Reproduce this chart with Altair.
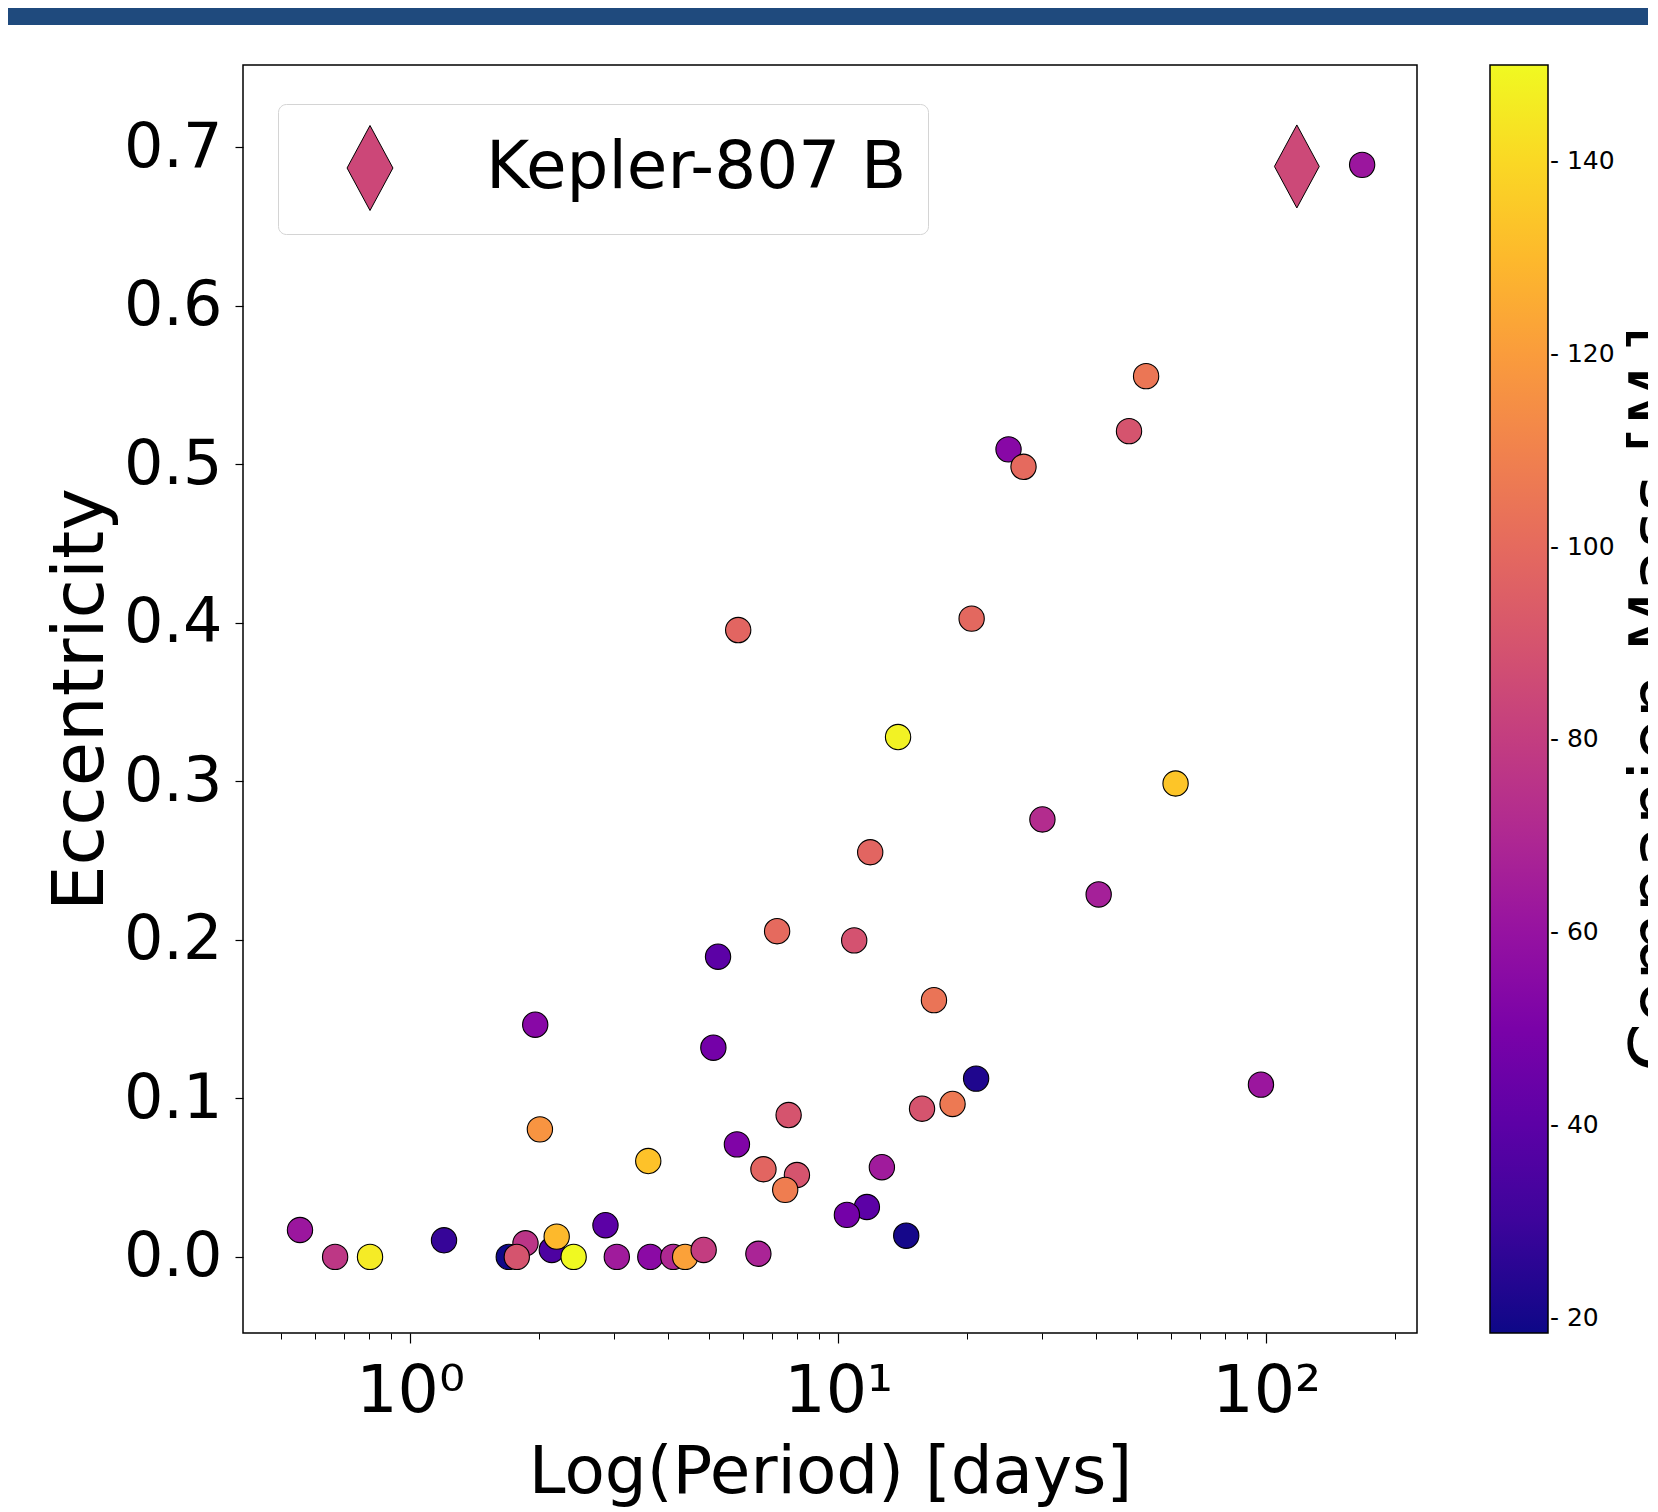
import altair as alt
import pandas as pd

FONT = "DejaVu Sans"

# ---- data (period [days], eccentricity, companion mass [M_J]) ----
period = [0.553, 0.668, 0.806, 1.20, 1.70, 1.86, 1.775, 2.143, 2.20, 2.41,
          2.86, 3.04, 3.64, 4.12, 4.39, 4.85, 2.01, 3.60, 1.96, 5.11,
          5.80, 6.51, 7.66, 8.01, 6.69, 7.52, 11.67, 10.48, 12.65, 14.42,
          15.7, 18.5, 21.0, 5.24, 10.9, 7.2, 11.88, 16.74, 13.8, 5.84,
          20.5, 25.0, 27.1, 47.8, 52.4, 30.0, 40.6, 61.4, 97.2, 167.5]
ecc = [0.017, 0.0, 0.0, 0.0105, 0.0, 0.0086, 0.0, 0.0044, 0.0128, 0.0,
       0.020, 0.0, 0.0, 0.0, 0.0, 0.0044, 0.0805, 0.0605, 0.1465, 0.132,
       0.071, 0.002, 0.0895, 0.0517, 0.0553, 0.0423, 0.0315, 0.0265, 0.0566, 0.0134,
       0.0935, 0.0965, 0.1125, 0.1894, 0.1997, 0.2055, 0.2553, 0.162, 0.328, 0.3955,
       0.4027, 0.5095, 0.4985, 0.521, 0.5557, 0.276, 0.2287, 0.2987, 0.1087, 0.689]
mass = [62, 77, 146, 28, 19, 76, 90, 35, 130, 150,
        40, 64, 56, 70, 122, 80, 117, 133, 55, 48,
        52, 68, 90, 90, 98, 108, 40, 48, 64, 20,
        90, 106, 22, 40, 89, 100, 98, 104, 148, 98,
        99, 55, 100, 90, 105, 72, 66, 134, 62, 62]

kep_name = ["Kepler-807 B"]
kep_period = [117.9]
kep_ecc = [0.688]
kep_mass = [85]

x_major = [1, 10, 100]
x_minor = [0.5, 0.6, 0.7, 0.8, 0.9, 2, 3, 4, 5, 6, 7, 8, 9,
           20, 30, 40, 50, 60, 70, 80, 90, 200]
y_ticks = [0.0, 0.1, 0.2, 0.3, 0.4, 0.5, 0.6, 0.7]
cbar_ticks = [20, 40, 60, 80, 100, 120, 140]
cbar_title = ["Companion Mass [M\u2c7c]"]

df = pd.DataFrame({"period": period, "ecc": ecc, "mass": mass})
kdf = pd.DataFrame({"name": kep_name, "period": kep_period, "ecc": kep_ecc, "mass": kep_mass})

W, H = 1174, 1268
PAD = {"left": 235, "top": 57, "right": 231, "bottom": 175}

xscale = alt.Scale(type="log", domain=[0.407, 225], nice=False)
yscale = alt.Scale(domain=[-0.048, 0.752], nice=False, zero=False)
cscale = alt.Scale(scheme="plasma", domain=[18.4, 150])

yaxis = alt.Axis(values=y_ticks, format=".1f", labelFontSize=62,
                 tickSize=8, tickWidth=1.2, labelPadding=13,
                 title="Eccentricity", titleFontSize=72, titlePadding=6)

color_legend = alt.Legend(
    orient="none", legendX=1247, legendY=0, direction="vertical",
    gradientLength=H, gradientThickness=58,
    gradientStrokeColor="black", gradientStrokeWidth=1.5,
    title=None, values=cbar_ticks, labelFontSize=25, labelFont=FONT,
    labelColor="black", labelOffset=2, labelExpr="'- ' + datum.label",
    labelOverlap=False, padding=0,
)

diamond_path = "M0,-1L0.54,0L0,1L-0.54,0Z"
shape_legend = alt.Legend(
    orient="none", legendX=35, legendY=39, title=None,
    symbolSize=7225, symbolFillColor="#cc4778", symbolStrokeColor="black",
    symbolStrokeWidth=1, symbolOpacity=1, symbolOffset=28,
    labelOffset=73, labelFontSize=66, labelFont=FONT, labelColor="black",
    labelLimit=1000, padding=21, strokeColor="#d4d4d4", fillColor="white",
    cornerRadius=8,
)

sup = "datum.value == 1 ? '10\u2070' : datum.value == 10 ? '10\u00b9' : '10\u00b2'"

points = alt.Chart(df).mark_circle(size=640, stroke="black", strokeWidth=1.1, opacity=1).encode(
    x=alt.X("period:Q", scale=xscale,
            axis=alt.Axis(orient="bottom", values=x_major, labelExpr=sup,
                          labelFontSize=65, tickSize=10, tickWidth=1.2,
                          labelPadding=17, labelFlush=False, labelOverlap=False,
                          title="Log(Period) [days]", titleFontSize=66,
                          titlePadding=16)),
    y=alt.Y("ecc:Q", scale=yscale, axis=yaxis),
    color=alt.Color("mass:Q", scale=cscale, legend=color_legend),
)

kepler = alt.Chart(kdf).mark_point(filled=True, size=6889, stroke="black",
                                   strokeWidth=1, opacity=1).encode(
    x=alt.X("period:Q", scale=xscale,
            axis=alt.Axis(orient="bottom", values=x_minor, labels=False,
                          tickSize=6, tickWidth=1, title=None)),
    y=alt.Y("ecc:Q", scale=yscale, axis=yaxis),
    color=alt.Color("mass:Q", scale=cscale, legend=color_legend),
    shape=alt.Shape("name:N", scale=alt.Scale(domain=kep_name, range=[diamond_path]),
                    legend=shape_legend),
)

band = alt.Chart(pd.DataFrame({"b": [0]})).mark_rule(color="#1f4a7d", strokeWidth=17).encode(
    x=alt.value(-PAD["left"]), x2=alt.value(W + PAD["right"]), y=alt.value(-48.5)
)

ctitle = alt.Chart(pd.DataFrame({"t": cbar_title})).mark_text(
    angle=270, fontSize=70, font=FONT, color="black", align="center", baseline="top"
).encode(x=alt.value(1381), y=alt.value(H / 2), text="t:N")

chart = alt.layer(band, points, kepler, ctitle).resolve_axis(x="independent").properties(
    width=W, height=H, padding=PAD, autosize=alt.AutoSizeParams(type="none"),
    background="white",
).configure_view(stroke="black", strokeWidth=1.5).configure_axis(
    labelFont=FONT, titleFont=FONT, labelColor="black", titleColor="black",
    tickColor="black", grid=False, domain=False, titleFontWeight="normal",
)

chart.save("out.html", embed_options={"renderer": "svg", "actions": False})
